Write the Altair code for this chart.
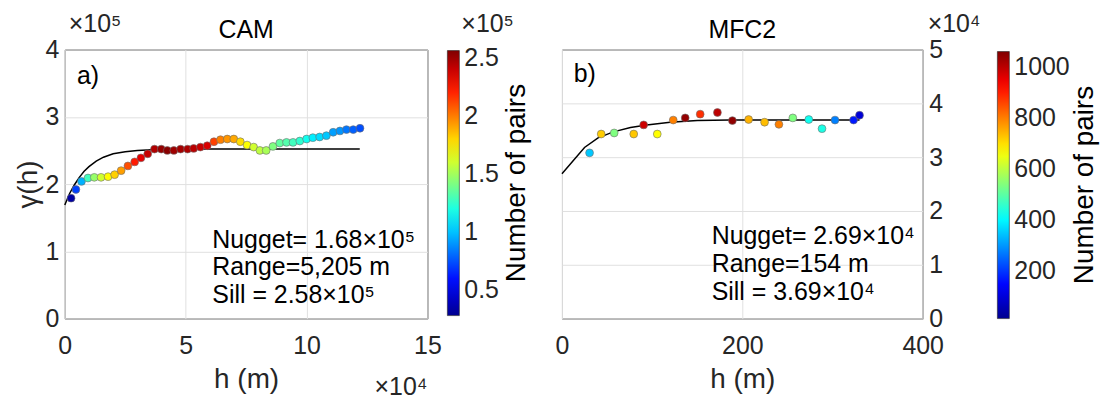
import altair as alt
import pandas as pd

FONT = "Liberation Sans"
INK = "#262626"
GRID = "#e0e0e0"

# ---------------- panel a) CAM ----------------
cam_lag = [0.26, 0.46, 0.69, 0.96, 1.22, 1.50, 1.79, 2.06, 2.33, 2.61, 2.89, 3.15, 3.43, 3.71, 3.99,
           4.24, 4.51, 4.79, 5.08, 5.33, 5.61, 5.89, 6.17, 6.44, 6.72, 6.99, 7.26, 7.54, 7.81, 8.07,
           8.33, 8.61, 8.89, 9.17, 9.44, 9.72, 10.00, 10.26, 10.54, 10.82, 11.10, 11.38, 11.65, 11.93, 12.21]
cam_gamma = [1.79, 1.92, 2.04, 2.09, 2.10, 2.10, 2.11, 2.14, 2.20, 2.27, 2.33, 2.39, 2.45, 2.52, 2.52,
             2.50, 2.50, 2.52, 2.52, 2.53, 2.55, 2.57, 2.63, 2.66, 2.67, 2.67, 2.63, 2.58, 2.55, 2.50,
             2.50, 2.56, 2.61, 2.62, 2.62, 2.64, 2.67, 2.69, 2.70, 2.72, 2.77, 2.79, 2.81, 2.81, 2.83]
cam_pairs = [0.33, 0.71, 0.96, 1.28, 1.47, 1.60, 1.71, 1.81, 1.92, 2.10, 2.22, 2.33, 2.40, 2.45, 2.51,
             2.54, 2.49, 2.48, 2.46, 2.43, 2.40, 2.36, 2.13, 1.99, 1.94, 1.90, 1.78, 1.70, 1.60, 1.56,
             1.51, 1.42, 1.35, 1.32, 1.28, 1.24, 1.17, 1.10, 1.06, 1.01, 0.92, 0.90, 0.83, 0.78, 0.74]
cam_fit_lag = [0.0, 0.2, 0.4, 0.6, 0.8, 1.0, 1.3, 1.6, 2.0, 2.5, 3.0, 3.6, 4.5, 6.0, 12.2]
cam_fit_gamma = [1.69, 1.86, 1.99, 2.10, 2.19, 2.26, 2.34, 2.40, 2.45, 2.48, 2.50, 2.51, 2.52, 2.52, 2.52]
cam_x_ticks = [0, 5, 10, 15]
cam_y_ticks = [0, 1, 2, 3, 4]
cam_cbar_ticks = [0.5, 1, 1.5, 2, 2.5]
cam_cbar_limits = [0.28, 2.56]
cam_stats = ["Nugget= 1.68×10⁵", "Range=5,205 m", "Sill = 2.58×10⁵"]

# ---------------- panel b) MFC2 ----------------
mfc_lag = [30.6, 43.5, 57.9, 79.6, 90.6, 105.7, 123.4, 136.7, 153.3, 172.4,
           189.0, 207.0, 224.7, 240.6, 256.0, 273.7, 288.4, 302.8, 323.4, 330.0]
mfc_gamma = [3.08, 3.43, 3.45, 3.43, 3.60, 3.43, 3.69, 3.73, 3.80, 3.83,
             3.68, 3.70, 3.65, 3.61, 3.73, 3.70, 3.53, 3.69, 3.69, 3.78]
mfc_pairs = [349, 721, 537, 726, 982, 668, 799, 1040, 883, 998,
             1045, 747, 736, 799, 537, 422, 433, 276, 171, 98]
mfc_fit_lag = [0, 25, 40, 57, 76, 94, 120, 150, 186, 330]
mfc_fit_gamma = [2.69, 3.18, 3.36, 3.47, 3.55, 3.60, 3.65, 3.68, 3.69, 3.69]
mfc_x_ticks = [0, 200, 400]
mfc_y_ticks = [0, 1, 2, 3, 4, 5]
mfc_cbar_ticks = [200, 400, 600, 800, 1000]
mfc_cbar_limits = [14, 1061]
mfc_stats = ["Nugget= 2.69×10⁴", "Range=154 m", "Sill = 3.69×10⁴"]

JET = ["#00008f", "#0000ff", "#00ffff", "#ffff00", "#ff0000", "#800000"]
JET_POS = [0, 0.125, 0.375, 0.625, 0.875, 1]


def jet_scale(lims):
    lo, hi = lims
    return alt.Scale(domain=[lo + p * (hi - lo) for p in JET_POS], range=JET, interpolate="rgb")


def label(txt, x, y, align="left", angle=0, size=25, color="black"):
    return alt.Chart(pd.DataFrame({"t": [txt]})).mark_text(
        align=align, baseline="alphabetic" if angle == 0 else "middle", angle=angle,
        font=FONT, fontSize=size, color=color
    ).encode(x=alt.value(x), y=alt.value(y), text="t:N")


def panel(lag, gamma, pairs, fit_lag, fit_gamma, title, letter, letter_pos, stats, stats_pos,
          xdom, xticks, ydom, yticks, yorient, ytitle, cbar_lims, cbar_ticks, cbar_fmt,
          W, H, cbar_x, cbar_y, cbar_len, label_x, label_y, exps):
    pts = pd.DataFrame({"h": lag, "g": gamma, "n": pairs})
    fit = pd.DataFrame({"h": fit_lag, "g": fit_gamma})
    st = pd.DataFrame({"h": [stats_pos[0]] * 3, "g": stats_pos[1], "t": stats})
    let = pd.DataFrame({"h": [letter_pos[0]], "g": [letter_pos[1]], "t": [letter]})

    yaxis_kw = dict(values=yticks, orient=yorient, labelPadding=6, format="d", labelFlush=False)
    if ytitle:
        yaxis_kw.update(title=ytitle, titlePadding=2)
    else:
        yaxis_kw.update(title=None)
    X = alt.X("h:Q", scale=alt.Scale(domain=xdom, nice=False),
              axis=alt.Axis(values=xticks, format="d", title="h (m)", labelPadding=15,
                            titlePadding=7, labelFlush=False))
    Y = alt.Y("g:Q", scale=alt.Scale(domain=ydom, nice=False), axis=alt.Axis(**yaxis_kw))

    line = alt.Chart(fit).mark_line(color="black", strokeWidth=1.5).encode(x=X, y=Y)
    dots = alt.Chart(pts).mark_circle(size=62, opacity=1, stroke="#6e6e6e", strokeWidth=0.6).encode(
        x="h:Q", y="g:Q",
        color=alt.Color("n:Q", scale=jet_scale(cbar_lims),
                        legend=alt.Legend(orient="none", legendX=cbar_x, legendY=cbar_y,
                                          direction="vertical", title=None,
                                          gradientLength=cbar_len, gradientThickness=12,
                                          gradientStrokeColor=INK, gradientStrokeWidth=0.6,
                                          values=cbar_ticks, format=cbar_fmt, labelFont=FONT,
                                          labelFontSize=25, labelColor=INK, labelOffset=5,
                                          labelOverlap=False, padding=0)),
    )
    stats_txt = alt.Chart(st).mark_text(align="left", baseline="middle", font=FONT,
                                        fontSize=25, color="black").encode(x="h:Q", y="g:Q", text="t:N")
    let_txt = alt.Chart(let).mark_text(align="left", baseline="middle", font=FONT,
                                       fontSize=25, color="black").encode(x="h:Q", y="g:Q", text="t:N")
    layers = [line, dots, stats_txt, let_txt,
              label("Number of pairs", label_x, label_y, align="center", angle=270, size=28),
              label(title, W / 2, -12, align="center", size=25)]
    for txt, ex, ey, al in exps:
        layers.append(label(txt, ex, ey, align=al, size=25, color=INK))
    return alt.layer(*layers).properties(width=W, height=H)


WA, HA = 364, 270
WB, HB = 362, 270

pa = panel(cam_lag, cam_gamma, cam_pairs, cam_fit_lag, cam_fit_gamma, "CAM", "a)", (0.5, 3.6),
           cam_stats, (6.1, [1.17, 0.76, 0.35]), [0, 15], cam_x_ticks, [0, 4], cam_y_ticks,
           "left", "γ(h)", cam_cbar_limits, cam_cbar_ticks, "~g",
           WA, HA, 384, 1, 266, 454, 134,
           [("×10⁵", 4, -18, "left"), ("×10⁵", 398, -18, "left"), ("×10⁴", WA, HA + 77, "right")])

pb = panel(mfc_lag, mfc_gamma, mfc_pairs, mfc_fit_lag, mfc_fit_gamma, "MFC2", "b)", (13, 4.55),
           mfc_stats, (166, [1.54, 1.02, 0.5]), [0, 400], mfc_x_ticks, [0, 5], mfc_y_ticks,
           "right", None, mfc_cbar_limits, mfc_cbar_ticks, "d",
           WB, HB, 437, 2, 268, 525, 136,
           [("×10⁴", 367, -18, "left")])

chart = (
    alt.hconcat(pa, pb, spacing=135)
    .resolve_scale(color="independent")
    .resolve_legend(color="independent")
    .properties(bounds="flush", padding={"left": 6, "top": 2, "right": 0, "bottom": 0},
                background="white")
    .configure_view(stroke=INK, strokeWidth=1)
    .configure_axis(grid=True, gridColor=GRID, gridWidth=1, domain=False, ticks=False, tickSize=0,
                    labelFont=FONT, labelFontSize=25, labelColor=INK,
                    titleFont=FONT, titleFontSize=28, titleFontWeight="normal", titleColor=INK)
)

chart.save("out.html", embed_options={"renderer": "svg", "actions": False})
